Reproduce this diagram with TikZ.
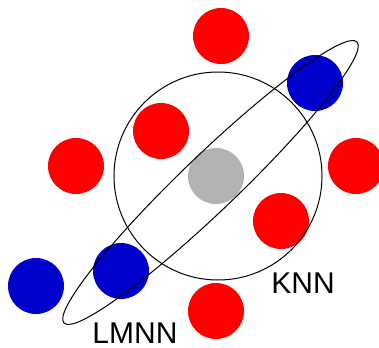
\documentclass[tikz,border=0pt]{standalone}
\usepackage{fontspec}
\setmainfont{Liberation Sans}
\usetikzlibrary{shapes.geometric}

\definecolor{ptred}{RGB}{255,0,0}
\definecolor{ptblue}{RGB}{0,0,204}
\definecolor{ptgray}{RGB}{178,178,178}

\begin{document}
\begin{tikzpicture}[
    x=1pt, y=-1pt,
    point/.style={
        circle,
        inner sep=0pt,
        minimum size=56pt
    },
    redpt/.style={point, fill=ptred},
    bluept/.style={point, fill=ptblue},
    query/.style={point, fill=ptgray},
    bound/.style={draw, line width=1pt, inner sep=0pt},
    label/.style={font=\fontsize{30}{30}\selectfont}
]
\useasboundingbox (0,0) rectangle (379,347);

% points
\node[redpt] (r1) at (221,36) {};
\node[redpt] (r2) at (161,131) {};
\node[redpt] (r3) at (76,166) {};
\node[redpt] (r4) at (356,166) {};
\node[redpt] (r5) at (281,221) {};
\node[redpt] (r6) at (216,311) {};
\node[bluept] (b1) at (315,83) {};
\node[bluept] (b2) at (121,271) {};
\node[bluept] (b3) at (36,286) {};
\node[query] (q) at (216,176) {};

% neighbourhoods
\node[bound, circle, minimum size=208pt] (knn) at (218,176) {};
\node[bound, ellipse, minimum width=406pt, minimum height=56pt, rotate=43.8] (lmnn) at (210.5,182.5) {};

% labels
\node[label] (knnlab) at (303,283) {KNN};
\node[label] (lmnnlab) at (135,333) {LMNN};
\end{tikzpicture}
\end{document}
